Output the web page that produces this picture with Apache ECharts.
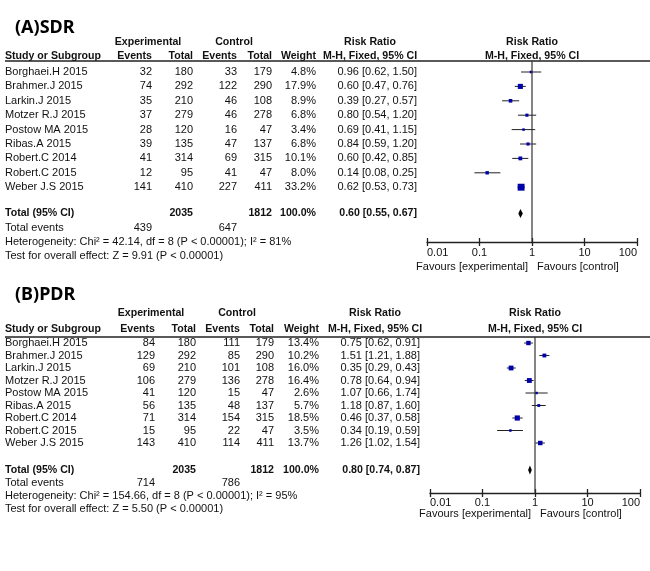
<!DOCTYPE html>
<html><head><meta charset="utf-8">
<script src="https://cdn.jsdelivr.net/npm/echarts@6/dist/echarts.min.js"></script>
<style>html,body{margin:0;padding:0;background:#fff}#c{width:650px;height:571px}</style>
</head><body><div id="c"></div>
<script>
// ---------- DATA ----------
const studies = ['Borghaei.H 2015','Brahmer.J 2015','Larkin.J 2015','Motzer R.J 2015','Postow MA 2015','Ribas.A 2015','Robert.C 2014','Robert.C 2015','Weber J.S 2015'];

const sdrExpEvents = [32,74,35,37,28,39,41,12,141];
const sdrExpTotal  = [180,292,210,279,120,135,314,95,410];
const sdrCtlEvents = [33,122,46,46,16,47,69,41,227];
const sdrCtlTotal  = [179,290,108,278,47,137,315,47,411];
const sdrWeight    = [4.8,17.9,8.9,6.8,3.4,6.8,10.1,8.0,33.2];
const sdrRR        = [0.96,0.60,0.39,0.80,0.69,0.84,0.60,0.14,0.62];
const sdrLo        = [0.62,0.47,0.27,0.54,0.41,0.59,0.42,0.08,0.53];
const sdrHi        = [1.50,0.76,0.57,1.20,1.15,1.20,0.85,0.25,0.73];
const sdrTotal     = {exp:2035, ctl:1812, weight:100.0, rr:0.60, lo:0.55, hi:0.67, expEv:439, ctlEv:647};
const sdrHet  = 'Heterogeneity: Chi\u00b2 = 42.14, df = 8 (P < 0.00001); I\u00b2 = 81%';
const sdrTest = 'Test for overall effect: Z = 9.91 (P < 0.00001)';

const pdrExpEvents = [84,129,69,106,41,56,71,15,143];
const pdrExpTotal  = [180,292,210,279,120,135,314,95,410];
const pdrCtlEvents = [111,85,101,136,15,48,154,22,114];
const pdrCtlTotal  = [179,290,108,278,47,137,315,47,411];
const pdrWeight    = [13.4,10.2,16.0,16.4,2.6,5.7,18.5,3.5,13.7];
const pdrRR        = [0.75,1.51,0.35,0.78,1.07,1.18,0.46,0.34,1.26];
const pdrLo        = [0.62,1.21,0.29,0.64,0.66,0.87,0.37,0.19,1.02];
const pdrHi        = [0.91,1.88,0.43,0.94,1.74,1.60,0.58,0.59,1.54];
const pdrTotal     = {exp:2035, ctl:1812, weight:100.0, rr:0.80, lo:0.74, hi:0.87, expEv:714, ctlEv:786};
const pdrHet  = 'Heterogeneity: Chi\u00b2 = 154.66, df = 8 (P < 0.00001); I\u00b2 = 95%';
const pdrTest = 'Test for overall effect: Z = 5.50 (P < 0.00001)';

const tickLabels = ['0.01','0.1','1','10','100'];

// ---------- LAYOUT ----------
const W = 650, H = 571;
const FONT = '"Liberation Sans", Arial, sans-serif';
const FS = 11;
const FSB = 10.6;
const TXT = '#111';

const layoutA = {top:0, bottom:285, titleY:28, hdr1Y:42, hdr2Y:56, lineY:61, row0:72, rowPx:14.4,
  totalY:213.5, eventsY:228, hetY:242, testY:256, favY:267, plotLeft:427, plotRight:637, axisY:242, tickMargin:5,
  studyX:5, cols:[152,193,237,272,316,417], expHdrX:148, ctlHdrX:234, rrHdrX:370, plotHdrX:532};
const layoutB = {top:285, bottom:571, titleY:295, hdr1Y:313, hdr2Y:329, lineY:337, row0:343, rowPx:12.5,
  totalY:470, eventsY:483, hetY:496, testY:509, favY:513.5, plotLeft:430, plotRight:640, axisY:493, tickMargin:4,
  studyX:5, cols:[155,196,240,274,319,420], expHdrX:151, ctlHdrX:237, rrHdrX:375, plotHdrX:535};

const panels = [
  {title:'(A)SDR', L:layoutA, ee:sdrExpEvents, et:sdrExpTotal, ce:sdrCtlEvents, ct:sdrCtlTotal, w:sdrWeight, rr:sdrRR, lo:sdrLo, hi:sdrHi, tot:sdrTotal, het:sdrHet, test:sdrTest},
  {title:'(B)PDR', L:layoutB, ee:pdrExpEvents, et:pdrExpTotal, ce:pdrCtlEvents, ct:pdrCtlTotal, w:pdrWeight, rr:pdrRR, lo:pdrLo, hi:pdrHi, tot:pdrTotal, het:pdrHet, test:pdrTest}
];

const fmtCI = (r,l,h) => r.toFixed(2)+' ['+l.toFixed(2)+', '+h.toFixed(2)+']';

const grids=[], xAxes=[], yAxes=[], series=[];

panels.forEach((P, pi) => {
  const L = P.L;
  const rowOf = px => (px - L.row0) / L.rowPx;
  // table grid
  const tg = grids.length;
  grids.push({left:0, right:0, top:L.top, bottom:H-L.bottom});
  const tx = xAxes.length;
  xAxes.push({type:'value', gridIndex:tg, min:0, max:W, show:false});
  const ty = yAxes.length;
  yAxes.push({type:'value', gridIndex:tg, min:rowOf(L.top), max:rowOf(L.bottom), inverse:true, show:false});
  // plot grid
  const pg = grids.length;
  grids.push({left:L.plotLeft, right:W-L.plotRight, top:L.lineY, bottom:H-L.axisY});
  const px1 = xAxes.length;
  const logCommon = {type:'log', logBase:10, gridIndex:pg, min:0.01, max:100, splitLine:{show:false}};
  xAxes.push(Object.assign({}, logCommon, {
    position:'bottom',
    axisLine:{show:true, onZero:false, lineStyle:{color:'#222', width:1.3}},
    axisTick:{show:true, length:4, lineStyle:{color:'#222', width:1.3}},
    axisLabel:{show:true, margin:L.tickMargin, color:TXT, fontFamily:FONT, fontSize:FS,
      alignMinLabel:'left', alignMaxLabel:'right',
      formatter: v => tickLabels[Math.round(Math.log10(v))+2]}
  }));
  // second axis: top position shifted down onto the bottom line, ticks pointing up
  xAxes.push(Object.assign({}, logCommon, {
    position:'top', offset: -(L.axisY - L.lineY),
    axisLine:{show:false, onZero:false}, axisTick:{show:true, length:4, lineStyle:{color:'#222', width:1.3}},
    axisLabel:{show:false}
  }));
  const py = yAxes.length;
  yAxes.push({type:'value', gridIndex:pg, min:rowOf(L.lineY), max:rowOf(L.axisY), inverse:true, show:false});

  // text items
  const items = [];
  const T = (x, y, text, align, opt) => items.push(Object.assign({x, row:rowOf(y), text, align}, opt||{}));
  const c = L.cols;
  const vX = (L.plotLeft + L.plotRight)/2;
  T(15, L.titleY, P.title, 'left', {title:true});
  T(L.expHdrX, L.hdr1Y, 'Experimental', 'center', {bold:true});
  T(L.ctlHdrX, L.hdr1Y, 'Control', 'center', {bold:true});
  T(L.rrHdrX, L.hdr1Y, 'Risk Ratio', 'center', {bold:true});
  T(L.plotHdrX, L.hdr1Y, 'Risk Ratio', 'center', {bold:true});
  T(L.studyX, L.hdr2Y, 'Study or Subgroup', 'left', {bold:true});
  T(c[0], L.hdr2Y, 'Events', 'right', {bold:true});
  T(c[1], L.hdr2Y, 'Total', 'right', {bold:true});
  T(c[2], L.hdr2Y, 'Events', 'right', {bold:true});
  T(c[3], L.hdr2Y, 'Total', 'right', {bold:true});
  T(c[4], L.hdr2Y, 'Weight', 'right', {bold:true});
  T(L.rrHdrX, L.hdr2Y, 'M-H, Fixed, 95% CI', 'center', {bold:true});
  T(L.plotHdrX, L.hdr2Y, 'M-H, Fixed, 95% CI', 'center', {bold:true});
  items.push({x:L.studyX, row:rowOf(L.lineY), x2:W, line:true});
  studies.forEach((s, i) => {
    const y = L.row0 + i*L.rowPx;
    T(L.studyX, y, s, 'left');
    T(c[0], y, String(P.ee[i]), 'right');
    T(c[1], y, String(P.et[i]), 'right');
    T(c[2], y, String(P.ce[i]), 'right');
    T(c[3], y, String(P.ct[i]), 'right');
    T(c[4], y, P.w[i].toFixed(1)+'%', 'right');
    T(c[5], y, fmtCI(P.rr[i], P.lo[i], P.hi[i]), 'right');
  });
  const tt = P.tot;
  T(L.studyX, L.totalY, 'Total (95% CI)', 'left', {bold:true});
  T(c[1], L.totalY, String(tt.exp), 'right', {bold:true});
  T(c[3], L.totalY, String(tt.ctl), 'right', {bold:true});
  T(c[4], L.totalY, tt.weight.toFixed(1)+'%', 'right', {bold:true});
  T(c[5], L.totalY, fmtCI(tt.rr, tt.lo, tt.hi), 'right', {bold:true});
  T(L.studyX, L.eventsY, 'Total events', 'left');
  T(c[0], L.eventsY, String(tt.expEv), 'right');
  T(c[2], L.eventsY, String(tt.ctlEv), 'right');
  T(L.studyX, L.hetY, P.het, 'left');
  T(L.studyX, L.testY, P.test, 'left');
  T(vX - 4, L.favY, 'Favours [experimental]', 'right');
  T(vX + 5, L.favY, 'Favours [control]', 'left');

  series.push({
    type:'custom', xAxisIndex:tx, yAxisIndex:ty, silent:true,
    data: items.map(it => [it.x, it.row]),
    renderItem: (params, api) => {
      const it = items[params.dataIndex];
      const p = api.coord([api.value(0), api.value(1)]);
      if (it.line) {
        const p2 = api.coord([it.x2, api.value(1)]);
        return {type:'line', shape:{x1:p[0], y1:p[1], x2:p2[0], y2:p2[1]}, style:{stroke:'#222', lineWidth:1.5}};
      }
      return {type:'text', style:{x:p[0], y:p[1], text:it.text, align:it.align, verticalAlign:'middle',
        fontFamily: it.title ? '"Noto Sans", "DejaVu Sans", sans-serif' : FONT,
        fontSize: it.title ? 18 : (it.bold ? FSB : FS), fontWeight: (it.bold||it.title) ? 'bold' : 'normal', fill: it.title ? '#000' : TXT}};
    }
  });

  // vertical line of no effect
  series.push({type:'line', xAxisIndex:px1, yAxisIndex:py, silent:true, symbol:'none',
    data:[[1, rowOf(L.lineY)], [1, rowOf(L.axisY)]], lineStyle:{color:'#333', width:1.2}});

  // forest marks
  const fdata = studies.map((s,i) => [P.rr[i], P.lo[i], P.hi[i], i, P.w[i], 0]);
  fdata.push([tt.rr, tt.lo, tt.hi, rowOf(L.totalY), tt.weight, 1]);
  series.push({
    type:'custom', xAxisIndex:px1, yAxisIndex:py, silent:true, clip:false,
    encode:{x:[0,1,2], y:3},
    data: fdata,
    renderItem: (params, api) => {
      const est=api.value(0), lo=api.value(1), hi=api.value(2), row=api.value(3), w=api.value(4), tot=api.value(5);
      const pe=api.coord([est,row]), pl=api.coord([lo,row]), ph=api.coord([hi,row]);
      if (tot) {
        return {type:'polygon', shape:{points:[[pl[0],pe[1]],[pe[0],pe[1]-4.5],[ph[0],pe[1]],[pe[0],pe[1]+4.5]]}, style:{fill:'#000'}};
      }
      const s = Math.max(2.5, 1.2*Math.sqrt(w));
      return {type:'group', children:[
        {type:'line', shape:{x1:pl[0], y1:pe[1], x2:ph[0], y2:pe[1]}, style:{stroke:'#222', lineWidth:1}},
        {type:'rect', shape:{x:pe[0]-s/2, y:pe[1]-s/2, width:s, height:s}, style:{fill:'#0000a8'}}
      ]};
    }
  });
});

const chart = echarts.init(document.getElementById('c'), null, {renderer:'canvas'});
chart.setOption({animation:false, backgroundColor:'#fff', grid:grids, xAxis:xAxes, yAxis:yAxes, series});
</script>
</body></html>
